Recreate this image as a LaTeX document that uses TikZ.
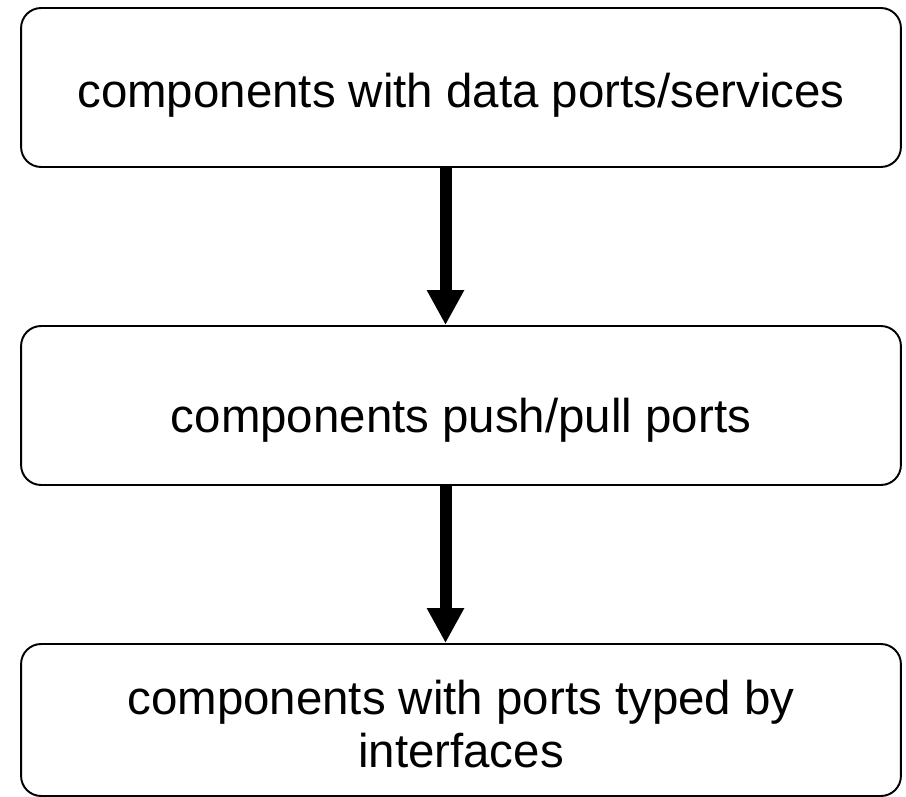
\documentclass[tikz,border=0pt]{standalone}
\usepackage{fontspec}
\setmainfont{Liberation Sans}
\usetikzlibrary{arrows.meta}

\begin{document}
\begin{tikzpicture}[
  x=0.02cm,y=-0.02cm,
  stage/.style={draw=black,line width=1.1pt,rounded corners=0.4cm,
    minimum width=17.6cm,minimum height=3.18cm,inner sep=0pt,align=center,
    text depth=0pt,font=\fontsize{27}{30.2}\selectfont},
  flow/.style={-{Triangle[length=0.7cm,width=0.7cm]},line width=0.24cm}
]
\useasboundingbox (0,0) rectangle (906,797);
\node[stage,text height=0.82cm] (data) at (461,87.5) {components with data ports/services};
\node[stage,text height=1.1cm] (push) at (461,405.5) {components push/pull ports};
\node[stage,text height=1.92cm,minimum height=3.04cm] (typed) at (461,720)
  {components with ports typed by\\interfaces};

\draw[flow] ([xshift=-0.31cm]data.south) -- ([xshift=-0.31cm]push.north);
\draw[flow] ([xshift=-0.31cm]push.south) -- ([xshift=-0.31cm]typed.north);
\end{tikzpicture}
\end{document}
